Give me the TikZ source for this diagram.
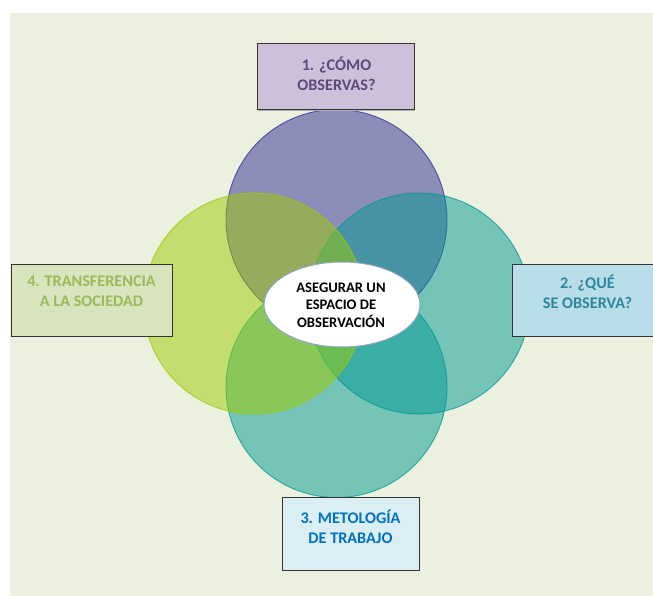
\documentclass[tikz,border=0pt]{standalone}
\usepackage{fontspec}
\setmainfont{Carlito}[BoldFont={Carlito Bold}]
\usetikzlibrary{shapes.geometric,calc}
\definecolor{bgc}{HTML}{EBF1DE}
\definecolor{cpurple}{HTML}{2F2D96}
\definecolor{cgreen}{HTML}{9DCB00}
\definecolor{cteal}{HTML}{009992}
\definecolor{fone}{HTML}{CCC0DA}
\definecolor{tone}{HTML}{5F497A}
\definecolor{ftwo}{HTML}{B7DEE8}
\definecolor{ttwo}{HTML}{31859C}
\definecolor{fthree}{HTML}{DAEEF3}
\definecolor{tthree}{HTML}{0070C0}
\definecolor{ffour}{HTML}{D7E4BD}
\definecolor{tfour}{HTML}{9BBB59}
\definecolor{ellb}{HTML}{8FA3C4}
\tikzset{
  vcirc/.style={circle,inner sep=0pt,outer sep=0pt,minimum size=221pt,fill opacity=0.5,draw opacity=0.75,line width=0.9pt},
  qbox/.style={rectangle,inner sep=0pt,draw=black!80,line width=1pt,minimum height=72pt},
  qshadow/.style={rectangle,inner sep=0pt,fill=black!30,minimum height=72pt},
  qtext/.style={align=center,font=\bfseries\fontsize{16.2}{20}\selectfont,inner sep=0pt},
  ctext/.style={align=center,font=\bfseries\fontsize{14.6}{17.5}\selectfont,inner sep=0pt,text=black}
}
\begin{document}
\begin{tikzpicture}[x=1pt,y=-1pt]
\useasboundingbox (0,0) rectangle (653,596);
\fill[white] (0,0) rectangle (653,596);
\fill[bgc] (10,13) rectangle (653,596);
% circles
\node[vcirc,fill=cpurple,draw=cpurple] (c1) at (336.5,220) {};
\node[vcirc,fill=cteal,draw=cteal] (c2) at (419,303.5) {};
\node[vcirc,fill=cteal,draw=cteal] (c3) at (336.5,387) {};
\node[vcirc,fill=cgreen,draw=cgreen] (c4) at (254,303.5) {};
% centre
\node[ellipse,fill=white,draw=ellb,line width=1pt,minimum width=156pt,minimum height=85pt,inner sep=0pt] (ce) at (342,304.5) {};
\node[ctext] (cet) at (341,305) {ASEGURAR UN\\ESPACIO DE\\OBSERVACIÓN};
% box 1
\node[qshadow,minimum width=157pt,minimum height=66pt] (s1) at (336.5,78) {};
\node[qbox,fill=fone,minimum width=157pt,minimum height=66pt] (b1) at (335.5,77) {};
\node[qtext,text=tone] (t1) at ($(b1.center)+(1,-3.5)$) {1. ¿CÓMO\\OBSERVAS?};
% box 2
\node[qshadow,minimum width=151pt] (s2) at (588.5,301) {};
\node[qbox,fill=ftwo,minimum width=151pt] (b2) at (587.5,300) {};
\node[qtext,text=ttwo] (t2) at ($(b2.center)+(0,-8.5)$) {2. ¿QUÉ\\SE OBSERVA?};
% box 3
\node[qshadow,minimum width=137pt,minimum height=73pt] (s3) at (351.5,534.5) {};
\node[qbox,fill=fthree,minimum width=137pt,minimum height=73pt] (b3) at (350.5,533.5) {};
\node[qtext,text=tthree] (t3) at ($(b3.center)+(0,-6.5)$) {3. METOLOGÍA\\DE TRABAJO};
% box 4
\node[qshadow,minimum width=161pt] (s4) at (92.5,301) {};
\node[qbox,fill=ffour,minimum width=161pt] (b4) at (91.5,300) {};
\node[qtext,text=tfour] (t4) at ($(b4.center)+(0,-8.5)$) {4. TRANSFERENCIA\\A LA SOCIEDAD};
\end{tikzpicture}
\end{document}
